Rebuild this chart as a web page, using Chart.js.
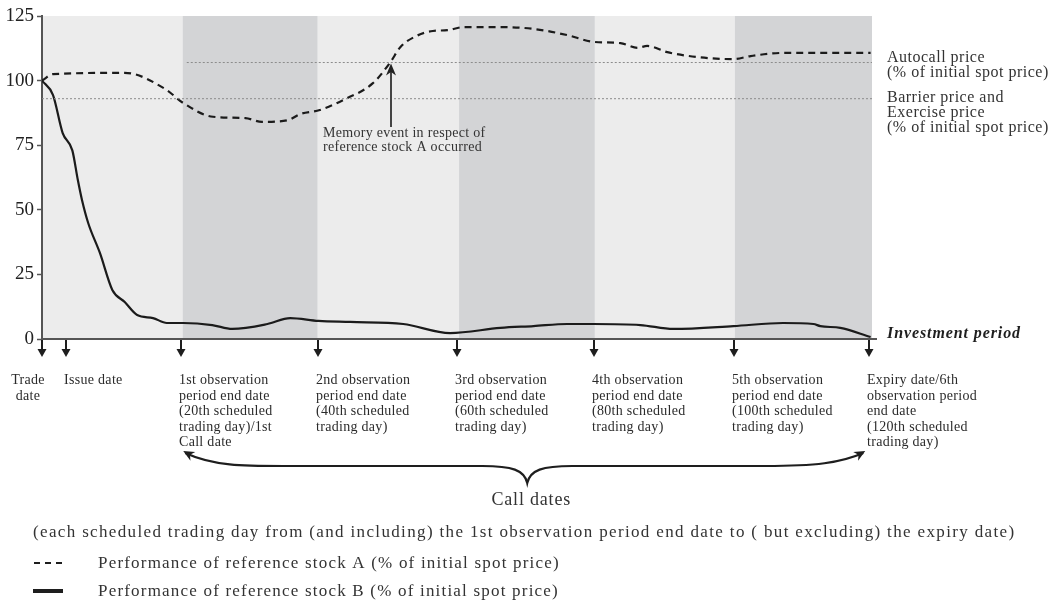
<!DOCTYPE html>
<html>
<head>
<meta charset="utf-8">
<script src="https://cdn.jsdelivr.net/npm/chart.js@4.4.0/dist/chart.umd.min.js"></script>
<style>
  html, body { margin: 0; padding: 0; background: #fff; }
  #wrap { width: 1053px; height: 616px; }
</style>
</head>
<body>
<div id="wrap"><canvas id="chart" width="1053" height="616"></canvas></div>
<script>
// scheduled trading day (x) and % of initial spot price (y)
const stockADays   = [0, 1.6, 12, 17.9, 20.5, 24.8, 29.5, 31.9, 35.7, 37.4, 40.3, 43.7, 48, 50.5, 52, 54.1, 56.7, 58.8, 61.1, 66.5, 71.3, 76.2, 80, 83.9, 86.4, 87.8, 90.7, 95.5, 100.3, 102.8, 107.5, 120.2];
const stockAValues = [100, 102.5, 103, 96.7, 91.3, 86, 85.5, 84, 84.7, 87, 88.6, 92.5, 99, 107, 113, 117, 119.2, 119.5, 120.7, 120.7, 120, 117.6, 115, 114.5, 112.7, 113.4, 111, 109, 108.3, 109.5, 110.7, 110.7];
const stockBDays   = [0, 1.6, 3, 4.4, 5.2, 5.8, 6.7, 8.4, 10.2, 12, 13.8, 16.1, 18.1, 20.5, 24.7, 27.6, 32.7, 36, 40.1, 44.7, 52.4, 59.2, 66.5, 71.3, 76.2, 80, 86.8, 91.6, 100.3, 107.5, 111.9, 112.9, 115.8, 120.2];
const stockBValues = [100, 94.4, 79.7, 73, 61.5, 53.8, 44.9, 33.3, 19, 14.3, 9.3, 8.1, 6.2, 6.2, 5.4, 3.9, 5.8, 8.1, 7, 6.6, 5.8, 2.3, 4.3, 5, 5.8, 5.8, 5.4, 3.9, 5, 6.2, 5.8, 5, 4.3, 0.8];

const autocallDays = [21, 120.4];
const autocallLevel = [107, 107];
const barrierDays = [0, 120.4];
const barrierLevel = [93, 93];

const yTicks = [0, 25, 50, 75, 100, 125];
const bandEdges = [0, 20.4, 40, 60.5, 80.2, 100.5, 120.4];
const memoryEventDay = 50.6;

const dateDays = [0, 3.5, 20.2, 40, 60.2, 80.1, 100.4, 120];
const dateLabels = [
  ['Trade', 'date'],
  ['Issue date'],
  ['1st observation', 'period end date', '(20th scheduled', 'trading day)/1st', 'Call date'],
  ['2nd observation', 'period end date', '(40th scheduled', 'trading day)'],
  ['3rd observation', 'period end date', '(60th scheduled', 'trading day)'],
  ['4th observation', 'period end date', '(80th scheduled', 'trading day)'],
  ['5th observation', 'period end date', '(100th scheduled', 'trading day)'],
  ['Expiry date/6th', 'observation period', 'end date', '(120th scheduled', 'trading day)']
];

const serif = '"Liberation Serif", "Times New Roman", serif';
const ink = '#2b2b2b';

function toPoints(xs, ys) {
  return xs.map((x, i) => ({ x: x, y: ys[i] }));
}

function write(ctx, str, x, y, size, opts) {
  opts = opts || {};
  ctx.save();
  ctx.font = (opts.style || '') + ' ' + size + 'px ' + serif;
  ctx.fillStyle = opts.color || ink;
  ctx.textAlign = opts.align || 'left';
  ctx.textBaseline = 'alphabetic';
  if ('letterSpacing' in ctx) ctx.letterSpacing = (opts.spacing || 0) + 'px';
  ctx.fillText(str, x, y);
  ctx.restore();
}

function arrowHead(ctx, x, y, angle, len, half) {
  ctx.save();
  ctx.translate(x, y);
  ctx.rotate(angle);
  ctx.beginPath();
  ctx.moveTo(0, 0);
  ctx.lineTo(-len, -half);
  ctx.lineTo(-len * 0.7, 0);
  ctx.lineTo(-len, half);
  ctx.closePath();
  ctx.fill();
  ctx.restore();
}

// grey shading of the observation periods
const bandsPlugin = {
  id: 'bands',
  beforeDraw(chart) {
    const ctx = chart.ctx, xs = chart.scales.x, a = chart.chartArea;
    ctx.save();
    for (let i = 0; i < bandEdges.length - 1; i++) {
      const x0 = xs.getPixelForValue(bandEdges[i]);
      const x1 = xs.getPixelForValue(bandEdges[i + 1]);
      ctx.fillStyle = i % 2 === 0 ? '#ececec' : '#d3d4d6';
      ctx.fillRect(x0, a.top, x1 - x0, a.bottom - a.top);
    }
    ctx.restore();
  }
};

const notesPlugin = {
  id: 'notes',
  afterDraw(chart) {
    const ctx = chart.ctx, xs = chart.scales.x, ys = chart.scales.y, a = chart.chartArea;
    ctx.save();
    ctx.fillStyle = '#1e1e1e';
    ctx.strokeStyle = '#555';

    // axis runs a little past the last band
    ctx.lineWidth = 2;
    ctx.beginPath();
    ctx.moveTo(a.right, a.bottom);
    ctx.lineTo(a.right + 5, a.bottom);
    ctx.stroke();
    ctx.strokeStyle = '#1e1e1e';

    // date arrows and labels under the axis
    dateDays.forEach((d, i) => {
      const x = Math.round(xs.getPixelForValue(d));
      ctx.lineWidth = 2;
      ctx.beginPath();
      ctx.moveTo(x, a.bottom + 1);
      ctx.lineTo(x, a.bottom + 12);
      ctx.stroke();
      ctx.beginPath();
      ctx.moveTo(x - 4.5, a.bottom + 10);
      ctx.lineTo(x + 4.5, a.bottom + 10);
      ctx.lineTo(x, a.bottom + 18);
      ctx.closePath();
      ctx.fill();
      dateLabels[i].forEach((line, j) => {
        const y = a.bottom + 45 + j * 15.5;
        if (i === 0) write(ctx, line, x - 14, y, 14, { align: 'center', spacing: 0.3 });
        else write(ctx, line, x - 2, y, 14, { spacing: 0.3 });
      });
    });

    // brace over the call dates
    const bx0 = xs.getPixelForValue(dateDays[2]) + 2;
    const bx1 = xs.getPixelForValue(dateDays[7]) - 4;
    const mid = (bx0 + bx1) / 2 + 3;
    const yTop = a.bottom + 112, yLine = a.bottom + 127, yCusp = a.bottom + 144;
    ctx.lineWidth = 2.2;
    ctx.beginPath();
    ctx.moveTo(bx0 + 2, yTop + 2);
    ctx.bezierCurveTo(bx0 + 30, yLine, bx0 + 60, yLine, bx0 + 100, yLine);
    ctx.lineTo(mid - 45, yLine);
    ctx.bezierCurveTo(mid - 15, yLine, mid - 3, yLine + 4, mid, yCusp);
    ctx.bezierCurveTo(mid + 3, yLine + 4, mid + 15, yLine, mid + 45, yLine);
    ctx.lineTo(bx1 - 100, yLine);
    ctx.bezierCurveTo(bx1 - 50, yLine, bx1 - 25, yLine - 3, bx1 - 2, yTop + 2);
    ctx.stroke();
    arrowHead(ctx, bx0, yTop, Math.atan2(-5, -9), 11, 5);
    arrowHead(ctx, bx1, yTop, Math.atan2(-5, 9), 11, 5);

    write(ctx, 'Call dates', mid + 4, a.bottom + 166, 18, { align: 'center', spacing: 0.8, color: '#333' });
    write(ctx, '(each scheduled trading day from (and including) the 1st observation period end date to ( but excluding) the expiry date)',
      33, a.bottom + 198, 17, { spacing: 1.35, color: '#333' });

    // legend
    const ly1 = a.bottom + 224, ly2 = a.bottom + 252;
    ctx.lineWidth = 1.8;
    ctx.setLineDash([6, 5]);
    ctx.beginPath();
    ctx.moveTo(34, ly1);
    ctx.lineTo(63, ly1);
    ctx.stroke();
    ctx.setLineDash([]);
    ctx.lineWidth = 4;
    ctx.beginPath();
    ctx.moveTo(33, ly2);
    ctx.lineTo(63, ly2);
    ctx.stroke();
    write(ctx, 'Performance of reference stock A (% of initial spot price)', 98, ly1 + 5, 17, { spacing: 1.2, color: '#333' });
    write(ctx, 'Performance of reference stock B (% of initial spot price)', 98, ly2 + 5, 17, { spacing: 1.2, color: '#333' });

    // right-hand notes
    const rx = a.right + 15;
    write(ctx, 'Autocall price', rx, 62, 16, { spacing: 0.5, color: '#333' });
    write(ctx, '(% of initial spot price)', rx, 77, 16, { spacing: 0.5, color: '#333' });
    write(ctx, 'Barrier price and', rx, 102, 16, { spacing: 0.5, color: '#333' });
    write(ctx, 'Exercise price', rx, 117, 16, { spacing: 0.5, color: '#333' });
    write(ctx, '(% of initial spot price)', rx, 132, 16, { spacing: 0.5, color: '#333' });
    write(ctx, 'Investment period', rx, a.bottom - 1, 16, { style: 'italic bold', spacing: 0.9, color: '#1e1e1e' });

    // memory event arrow
    const mx = Math.round(xs.getPixelForValue(memoryEventDay));
    const tipY = ys.getPixelForValue(autocallLevel[0]) + 1;
    ctx.strokeStyle = '#444';
    ctx.fillStyle = '#222';
    ctx.lineWidth = 2;
    ctx.beginPath();
    ctx.moveTo(mx, ys.getPixelForValue(82));
    ctx.lineTo(mx, tipY + 8);
    ctx.stroke();
    arrowHead(ctx, mx, tipY, -Math.PI / 2, 12, 5);
    write(ctx, 'Memory event in respect of', mx - 68, 137, 14, { spacing: 0.3, color: '#333' });
    write(ctx, 'reference stock A occurred', mx - 68, 151, 14, { spacing: 0.3, color: '#333' });

    ctx.restore();
  }
};

new Chart(document.getElementById('chart').getContext('2d'), {
  type: 'line',
  data: {
    datasets: [
      { label: 'Barrier', data: toPoints(barrierDays, barrierLevel), borderColor: '#8c8c8c', borderWidth: 1, borderDash: [2, 2], pointRadius: 0 },
      { label: 'Autocall', data: toPoints(autocallDays, autocallLevel), borderColor: '#8c8c8c', borderWidth: 1, borderDash: [2, 2], pointRadius: 0 },
      { label: 'Stock B', data: toPoints(stockBDays, stockBValues), borderColor: '#1b1b1b', borderWidth: 2.2, pointRadius: 0, cubicInterpolationMode: 'monotone' },
      { label: 'Stock A', data: toPoints(stockADays, stockAValues), borderColor: '#1b1b1b', borderWidth: 2.2, borderDash: [7, 5], pointRadius: 0, cubicInterpolationMode: 'monotone' }
    ]
  },
  options: {
    responsive: false,
    animation: false,
    layout: { padding: { top: 16, right: 181, bottom: 277, left: 0 } },
    plugins: { legend: { display: false }, tooltip: { enabled: false } },
    scales: {
      x: {
        type: 'linear', min: 0, max: 120.4,
        ticks: { display: false },
        grid: { display: false },
        border: { color: '#555', width: 2 },
        afterFit: s => { s.height = 0; }
      },
      y: {
        min: 0, max: 125,
        afterBuildTicks: s => { s.ticks = yTicks.map(v => ({ value: v })); },
        ticks: { font: { family: serif, size: 19 }, color: '#222', padding: 3 },
        grid: { drawOnChartArea: false, tickLength: 5, color: '#555', tickWidth: 1.5 },
        border: { color: '#555', width: 2 },
        afterFit: s => { s.width = 42; }
      }
    }
  },
  plugins: [bandsPlugin, notesPlugin]
});
</script>
</body>
</html>
